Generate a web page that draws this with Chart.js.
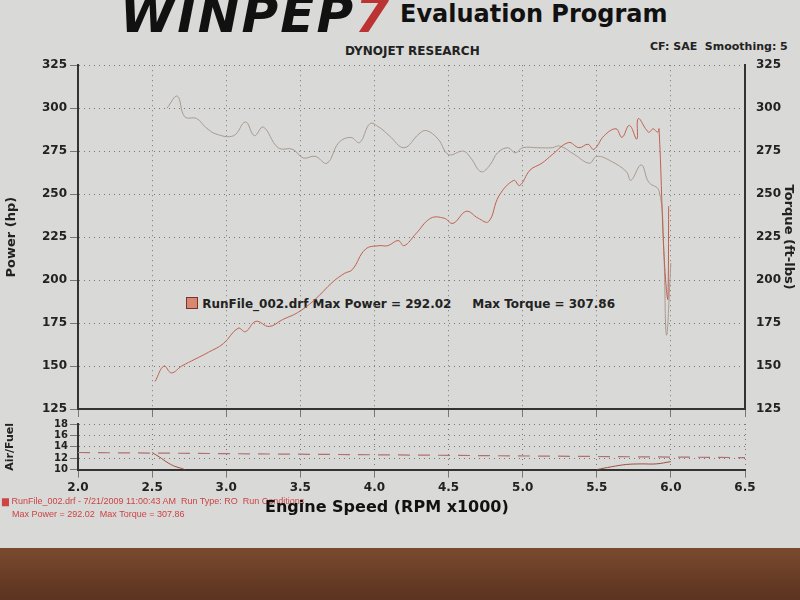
<!DOCTYPE html>
<html><head><meta charset="utf-8">
<script src="https://cdn.jsdelivr.net/npm/chart.js@4"></script>
<style>
body{margin:0;width:800px;height:600px;background:#d9d9d7;font-family:"DejaVu Sans",sans-serif;position:relative;overflow:hidden}
.t{position:absolute;white-space:nowrap}
#wood{position:absolute;left:0;top:548px;width:800px;height:52px;background:linear-gradient(#7a4a2e,#5b3320)}
</style></head><body>
<div id="wood"></div>
<div class="t" style="left:120px;top:-14px;font:italic 900 50px 'DejaVu Sans';color:#111;letter-spacing:2px">WINPEP<span style="color:#b33">7</span></div>
<div class="t" style="left:400px;top:0px;font:bold 24px 'DejaVu Sans';color:#111">Evaluation Program</div>
<div class="t" style="left:345px;top:44px;font:bold 12px 'DejaVu Sans';color:#222">DYNOJET RESEARCH</div>
<div class="t" style="left:650px;top:40px;font:bold 11px 'DejaVu Sans';color:#222">CF: SAE &nbsp;Smoothing: 5</div>
<div class="t" style="left:186px;top:297px;font:bold 12px 'DejaVu Sans';color:#222"><span style="display:inline-block;width:10px;height:10px;background:#d98870;border:1px solid #733;vertical-align:-1px"></span> RunFile_002.drf Max Power = 292.02 &nbsp;&nbsp;&nbsp;&nbsp;Max Torque = 307.86</div>
<canvas id="c1" class="t" style="left:0;top:55px" width="800" height="370"></canvas>
<canvas id="c2" class="t" style="left:0;top:416px" width="800" height="82"></canvas>
<div class="t" style="left:2px;top:496px;font:9px 'Liberation Sans';color:#c44">▆ RunFile_002.drf - 7/21/2009 11:00:43 AM &nbsp;Run Type: RO &nbsp;Run Conditions</div>
<div class="t" style="left:12px;top:509px;font:9px 'Liberation Sans';color:#c44">Max Power = 292.02 &nbsp;Max Torque = 307.86</div>
<script>
const rpmTicks=[2.0,2.5,3.0,3.5,4.0,4.5,5.0,5.5,6.0,6.5];
const powerRpm=[2.52,2.58,2.63,2.70,2.79,2.88,2.98,3.08,3.13,3.20,3.29,3.38,3.48,3.59,3.72,3.80,3.85,3.94,4.03,4.09,4.16,4.20,4.28,4.38,4.47,4.53,4.62,4.70,4.77,4.84,4.94,4.98,5.05,5.13,5.20,5.31,5.38,5.44,5.48,5.55,5.63,5.67,5.72,5.77,5.78,5.85,5.88,5.91,5.92,5.95,5.97,5.98,5.985];
const powerHp=[141,150,146,150,154,158,163,172,170,176,173,177,181,188,199,204,206,218,220,220,223,220,227,236,236,233,240,236,234,249,258,255,264,268,273,280,277,279,276,284,288,283,290,282,294,286,288,286,288,221,194,189,243];
const torqueRpm=[2.60,2.67,2.72,2.80,2.86,2.93,3.05,3.13,3.19,3.25,3.35,3.45,3.52,3.60,3.68,3.76,3.84,3.90,3.97,4.03,4.10,4.20,4.30,4.35,4.43,4.50,4.60,4.65,4.72,4.78,4.83,4.90,4.95,5.00,5.10,5.20,5.25,5.35,5.45,5.50,5.60,5.70,5.73,5.80,5.85,5.92,5.95,5.97,6.00];
const torqueFt=[300,307,295,294,289,285,284,292,284,289,277,276,271,272,268,280,283,280,291,289,284,277,285,287,282,273,275,271,263,267,274,277,274,277,277,277,278,273,268,272,269,263,258,267,257,252,222,168,210];
const afrRpm=[2.5,2.55,2.6,2.65,2.7,2.72];
const afrVal=[13.0,12.2,11.3,10.6,10.2,10.0];
const afr2Rpm=[5.5,5.6,5.7,5.8,5.9,6.0];
const afr2Val=[10.0,10.5,10.9,11.0,11.0,11.4];
const refRpm=[2.0,6.5];const refAfr=[13.0,12.1];

const pts=(xs,ys)=>xs.map((x,i)=>({x,y:ys[i]}));
const grid={color:'#777',lineWidth:1};
const bord={color:'#333',width:2,dash:[1,4]};
const fitL=s=>{s.width=78}, fitR=s=>{s.width=55};
const tickFont={family:'DejaVu Sans',size:12,weight:'bold'};
new Chart(c1,{type:'line',data:{datasets:[
 {data:pts(powerRpm,powerHp),borderColor:'#c0614f',borderWidth:1,pointRadius:0,tension:0.4,yAxisID:'y'},
 {data:pts(torqueRpm,torqueFt),borderColor:'#a89a90',borderWidth:1,pointRadius:0,tension:0.4,yAxisID:'y2'}]},
 options:{responsive:false,animation:false,plugins:{legend:{display:false},tooltip:{enabled:false}},layout:{padding:{top:8,bottom:8}},
 scales:{x:{type:'linear',min:2,max:6.5,afterBuildTicks:a=>{a.ticks=rpmTicks.map(v=>({value:v}))},ticks:{display:false},grid:grid,border:bord},
 y:{min:125,max:325,afterBuildTicks:a=>{a.ticks=[125,150,175,200,225,250,275,300,325].map(v=>({value:v}))},afterFit:fitL,ticks:{color:'#222',font:tickFont},grid:grid,border:bord,title:{display:true,text:'Power (hp)',color:'#222',font:{family:'DejaVu Sans',size:13,weight:'bold'}}},
 y2:{position:'right',min:125,max:325,afterBuildTicks:a=>{a.ticks=[125,150,175,200,225,250,275,300,325].map(v=>({value:v}))},afterFit:fitR,ticks:{color:'#222',font:tickFont},grid:{display:false},border:{color:'#333',width:2},title:{display:true,text:'Torque (ft-lbs)',color:'#222',font:{family:'DejaVu Sans',size:13,weight:'bold'}}}}}});
new Chart(c2,{type:'line',data:{datasets:[
 {data:pts(refRpm,refAfr),borderColor:'#b07070',borderWidth:1.2,borderDash:[12,8],pointRadius:0},
 {data:pts(afrRpm,afrVal),borderColor:'#9a5040',borderWidth:1,pointRadius:0,tension:0.4},
 {data:pts(afr2Rpm,afr2Val),borderColor:'#9a5040',borderWidth:1,pointRadius:0,tension:0.4}]},
 options:{responsive:false,animation:false,plugins:{legend:{display:false},tooltip:{enabled:false}},layout:{padding:{right:55,top:6}},
 scales:{x:{type:'linear',min:2,max:6.5,afterBuildTicks:a=>{a.ticks=rpmTicks.map(v=>({value:v}))},ticks:{color:'#222',font:{family:'DejaVu Sans',size:12,weight:'bold'},callback:v=>v.toFixed(1)},grid:grid,border:bord},
 y:{min:10,max:18,afterBuildTicks:a=>{a.ticks=[10,12,14,16,18].map(v=>({value:v}))},afterFit:fitL,ticks:{color:'#222',font:{family:'DejaVu Sans',size:10,weight:'bold'},padding:2,autoSkip:false},grid:grid,border:bord,title:{display:true,text:'Air/Fuel',color:'#222',font:{family:'DejaVu Sans',size:11,weight:'bold'}}}}}});
</script>
<div class="t" style="left:265px;top:497px;font:bold 16px 'DejaVu Sans';color:#111">Engine Speed (RPM x1000)</div>
</body></html>
